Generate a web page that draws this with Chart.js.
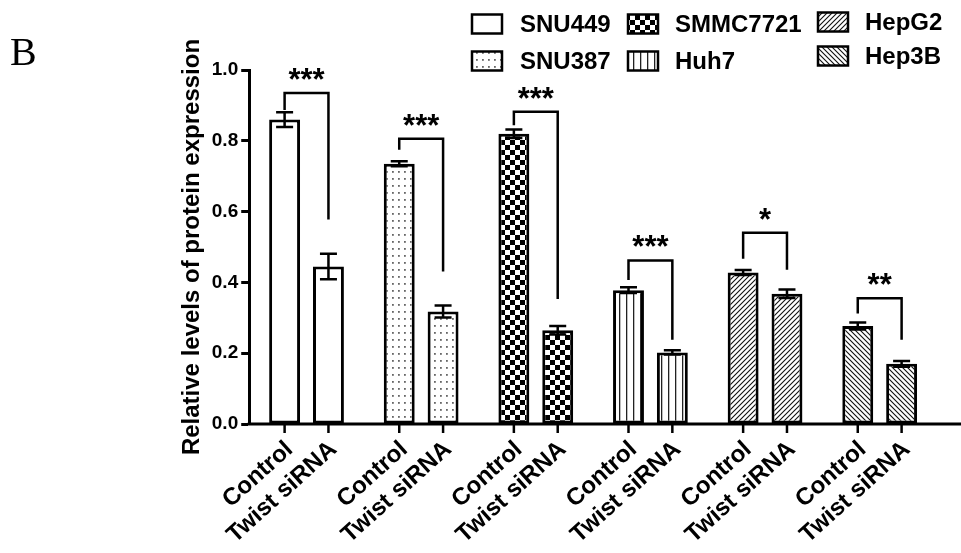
<!DOCTYPE html>
<html>
<head>
<meta charset="utf-8">
<script src="https://cdn.jsdelivr.net/npm/chart.js@4.4.0/dist/chart.umd.min.js"></script>
<style>
  html, body { margin: 0; padding: 0; background: #fff; }
  #wrap { width: 961px; height: 553px; position: relative; }
</style>
</head>
<body>
<div id="wrap"><canvas id="myChart"></canvas></div>
<script>
  var cellLines = ["SNU449", "SNU387", "SMMC7721", "Huh7", "HepG2", "Hep3B"];
  var treatments = ["Control", "Twist siRNA"];
  var controlVals = [0.86, 0.735, 0.82, 0.378, 0.428, 0.277];
  var sirnaVals = [0.445, 0.318, 0.265, 0.202, 0.368, 0.170];
  var controlErr = [0.021, 0.007, 0.012, 0.008, 0.007, 0.010];
  var sirnaErr = [0.036, 0.017, 0.012, 0.006, 0.012, 0.008];
  // significance brackets: top line, bottom of left leg, bottom of right leg
  var bracketTop = [0.935, 0.806, 0.882, 0.462, 0.54, 0.355];
  var bracketLeft = [0.887, 0.775, 0.844, 0.407, 0.467, 0.312];
  var bracketRight = [0.578, 0.431, 0.353, 0.238, 0.436, 0.238];
  var stars = ["***", "***", "***", "***", "*", "**"];
  var yTicks = [0, 0.2, 0.4, 0.6, 0.8, 1.0];

  var sans = "'Liberation Sans', Arial, sans-serif";

  function makePattern(kind) {
    var c = document.createElement("canvas");
    var g = c.getContext("2d");
    if (kind == "white") {
      c.width = 4; c.height = 4;
      g.fillStyle = "#fff"; g.fillRect(0, 0, 4, 4);
    } else if (kind == "dots") {
      c.width = 6; c.height = 7;
      g.fillStyle = "#fff"; g.fillRect(0, 0, 6, 7);
      g.fillStyle = "#666"; g.fillRect(2, 3, 1.8, 1.8);
    } else if (kind == "checker") {
      c.width = 10; c.height = 10;
      g.fillStyle = "#fff"; g.fillRect(0, 0, 10, 10);
      g.fillStyle = "#000"; g.fillRect(0, 0, 5, 5); g.fillRect(5, 5, 5, 5);
    } else if (kind == "vert") {
      c.width = 7; c.height = 4;
      g.fillStyle = "#fff"; g.fillRect(0, 0, 7, 4);
      g.fillStyle = "#222"; g.fillRect(3, 0, 1.3, 4);
    } else {
      var s = 5;
      c.width = s; c.height = s;
      g.fillStyle = "#fff"; g.fillRect(0, 0, s, s);
      g.strokeStyle = "#111"; g.lineWidth = 1.1;
      g.beginPath();
      if (kind == "fwd") {
        g.moveTo(-1, s + 1); g.lineTo(s + 1, -1);
        g.moveTo(-1, 1); g.lineTo(1, -1);
        g.moveTo(s - 1, s + 1); g.lineTo(s + 1, s - 1);
      } else {
        g.moveTo(-1, -1); g.lineTo(s + 1, s + 1);
        g.moveTo(s - 1, -1); g.lineTo(s + 1, 1);
        g.moveTo(-1, s - 1); g.lineTo(1, s + 1);
      }
      g.stroke();
    }
    return g.createPattern(c, "repeat");
  }

  var fills = ["white", "dots", "checker", "vert", "fwd", "back"].map(makePattern);

  var extras = {
    id: "extras",
    afterDatasetsDraw: function(chart) {
      var ctx = chart.ctx;
      var y = chart.scales.y;
      var area = chart.chartArea;
      var metas = [chart.getDatasetMeta(0), chart.getDatasetMeta(1)];
      var errs = [controlErr, sirnaErr];
      var vals = [controlVals, sirnaVals];
      ctx.save();
      ctx.strokeStyle = "#000";
      ctx.fillStyle = "#000";

      // x axis line, out to the right edge
      ctx.lineWidth = 3;
      ctx.beginPath();
      ctx.moveTo(area.left - 1.5, area.bottom);
      ctx.lineTo(chart.width, area.bottom);
      ctx.stroke();

      // error bars
      ctx.lineWidth = 2.5;
      for (var d = 0; d < 2; d++) {
        for (var j = 0; j < cellLines.length; j++) {
          var bx = metas[d].data[j].x;
          var t = y.getPixelForValue(vals[d][j] + errs[d][j]);
          var b = y.getPixelForValue(vals[d][j] - errs[d][j]);
          ctx.beginPath();
          ctx.moveTo(bx, t); ctx.lineTo(bx, b);
          ctx.moveTo(bx - 8.5, t); ctx.lineTo(bx + 8.5, t);
          ctx.moveTo(bx - 8.5, b); ctx.lineTo(bx + 8.5, b);
          ctx.stroke();
        }
      }

      // brackets and stars
      ctx.lineWidth = 2.5;
      ctx.textAlign = "center";
      ctx.textBaseline = "alphabetic";
      ctx.font = "bold 31px " + sans;
      for (var k = 0; k < cellLines.length; k++) {
        var x1 = metas[0].data[k].x, x2 = metas[1].data[k].x;
        var top = y.getPixelForValue(bracketTop[k]);
        ctx.beginPath();
        ctx.moveTo(x1, y.getPixelForValue(bracketLeft[k]));
        ctx.lineTo(x1, top);
        ctx.lineTo(x2, top);
        ctx.lineTo(x2, y.getPixelForValue(bracketRight[k]));
        ctx.stroke();
        ctx.fillText(stars[k], (x1 + x2) / 2, top - 3);
      }

      // x ticks and rotated labels under each bar
      ctx.font = "bold 24px " + sans;
      ctx.textAlign = "right";
      ctx.textBaseline = "middle";
      for (var d2 = 0; d2 < 2; d2++) {
        for (var m = 0; m < cellLines.length; m++) {
          var tx = metas[d2].data[m].x;
          ctx.lineWidth = 2.5;
          ctx.beginPath();
          ctx.moveTo(tx, area.bottom);
          ctx.lineTo(tx, area.bottom + 9);
          ctx.stroke();
          ctx.save();
          ctx.translate(tx + 5, area.bottom + 22);
          ctx.rotate(-42 * Math.PI / 180);
          ctx.fillText(treatments[d2], 0, 0);
          ctx.restore();
        }
      }

      // legend of cell lines
      var legX = [[472, 520], [628, 675], [818, 865]];
      var legY = [[24, 61], [24, 61], [22, 56]];
      ctx.font = "bold 24px " + sans;
      ctx.textAlign = "left";
      ctx.textBaseline = "middle";
      for (var n = 0; n < cellLines.length; n++) {
        var col = Math.floor(n / 2), row = n % 2;
        var lx = legX[col][0], ly = legY[col][row];
        ctx.fillStyle = fills[n];
        ctx.fillRect(lx, ly - 9.5, 30, 19);
        ctx.lineWidth = 2.5;
        ctx.strokeRect(lx, ly - 9.5, 30, 19);
        ctx.fillStyle = "#000";
        ctx.fillText(cellLines[n], legX[col][1], ly + 1);
      }

      // panel letter
      ctx.font = "40px 'Liberation Serif', 'Times New Roman', serif";
      ctx.textAlign = "left";
      ctx.textBaseline = "alphabetic";
      ctx.fillText("B", 10, 65);
      ctx.restore();
    }
  };

  new Chart("myChart", {
    type: "bar",
    data: {
      labels: cellLines,
      datasets: [{
        label: treatments[0],
        data: controlVals,
        backgroundColor: fills,
        borderColor: "#000",
        borderWidth: 3,
        borderSkipped: false,
        categoryPercentage: 0.765,
        barPercentage: 0.705
      }, {
        label: treatments[1],
        data: sirnaVals,
        backgroundColor: fills,
        borderColor: "#000",
        borderWidth: 3,
        borderSkipped: false,
        categoryPercentage: 0.765,
        barPercentage: 0.705
      }]
    },
    options: {
      responsive: true,
      maintainAspectRatio: false,
      animation: false,
      devicePixelRatio: 1,
      layout: { padding: { left: 178, right: 24, top: 70, bottom: 121 } },
      plugins: { legend: { display: false }, tooltip: { enabled: false } },
      scales: {
        x: {
          grid: { display: false },
          ticks: { display: false },
          border: { display: false }
        },
        y: {
          min: 0,
          max: 1,
          afterBuildTicks: function(axis) {
            axis.ticks = yTicks.map(function(v) { return { value: v }; });
          },
          ticks: {
            color: "#000",
            padding: 3,
            font: { family: sans, size: 19, weight: "bold" },
            callback: function(v) { return v.toFixed(1); }
          },
          grid: { drawOnChartArea: false, tickLength: 8, tickWidth: 3, tickColor: "#000" },
          border: { color: "#000", width: 3 },
          title: {
            display: true,
            text: "Relative levels of protein expression",
            color: "#000",
            padding: { top: 0, bottom: 2 },
            font: { family: sans, size: 24, weight: "bold" }
          }
        }
      }
    },
    plugins: [extras]
  });
</script>
</body>
</html>
